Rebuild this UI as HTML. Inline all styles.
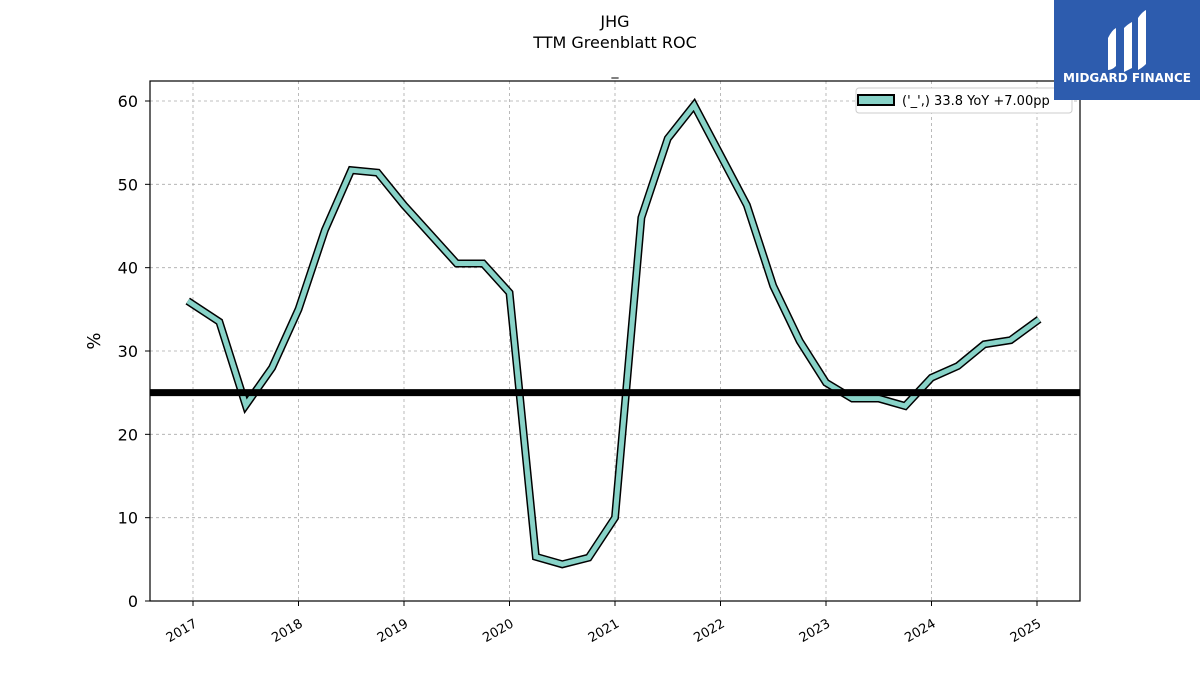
<!DOCTYPE html>
<html><head><meta charset="utf-8"><style>
body{margin:0;background:#fff;}
svg text{font-family:"DejaVu Sans","Liberation Sans",sans-serif;}
</style></head><body>
<svg id="c" width="1200" height="675" xmlns="http://www.w3.org/2000/svg">
<rect width="1200" height="675" fill="#fff"/>
<text x="615" y="27" font-size="16" text-anchor="middle">JHG</text>
<text x="615" y="48" font-size="16" text-anchor="middle">TTM Greenblatt ROC</text>
<text x="615" y="75" font-size="14" text-anchor="middle">_</text>
<g id="grid"></g>
<g id="marks"></g>
<rect x="150" y="81" width="930" height="520" fill="none" stroke="#000" stroke-width="1.2"/>
<g id="axes"></g>
<text x="100" y="341" font-size="18" text-anchor="middle" transform="rotate(-90 100 341)">%</text>
<g>
<rect x="856" y="88" width="216" height="25" rx="3" fill="#fff" stroke="#ccc"/>
<rect x="858" y="95" width="36" height="10" fill="#88d3c8" stroke="#000" stroke-width="2"/>
<text x="902" y="105" font-size="13">('_',) 33.8 YoY +7.00pp</text>
</g>
<g>
<rect x="1054" y="0" width="146" height="100" fill="#2d5cae"/>
<path d="M1108 38 q4-8 8-10 v38 q-4 4-8 4z M1124 28 q4-4 8-6 v46 q-4 2-8 4z M1138 18 q4-6 8-8 v54 q-4 4-8 6z" fill="#fff"/>
<text x="1127" y="82" font-size="12" font-weight="bold" fill="#fff" text-anchor="middle">MIDGARD FINANCE</text>
</g>
</svg>
<script>
const yTicks=[0,10,20,30,40,50,60];
const xYears=[2017,2018,2019,2020,2021,2022,2023,2024,2025];
const dates=[2016.95,2017.25,2017.5,2017.75,2018,2018.25,2018.5,2018.75,2019,2019.25,2019.5,2019.75,2020,2020.25,2020.5,2020.75,2021,2021.25,2021.5,2021.75,2022,2022.25,2022.5,2022.75,2023,2023.25,2023.5,2023.75,2024,2024.25,2024.5,2024.75,2025.02];
const values=[36,33.5,23.5,28,35,44.5,51.7,51.4,47.5,44,40.5,40.5,37,5.3,4.4,5.2,10,46,55.5,59.5,53.5,47.5,37.8,31.2,26.2,24.3,24.3,23.4,26.8,28.2,30.8,31.3,33.8];
const refLine=25;
const NS='http://www.w3.org/2000/svg';
const X=d=>193+(d-2017)*105.5;
const Y=v=>601-v*(500/60);
function mk(t,a,p){const e=document.createElementNS(NS,t);for(const k in a)e.setAttribute(k,a[k]);p.appendChild(e);return e;}
const grid=document.getElementById('grid'),axes=document.getElementById('axes'),marks=document.getElementById('marks');
yTicks.forEach(v=>{
 const l=mk('line',{x1:150,x2:1080,y1:Y(v),y2:Y(v),stroke:'#aaa','stroke-dasharray':'3,3','stroke-width':0.8},grid);
 
 
 mk('line',{x1:145,x2:150,y1:Y(v),y2:Y(v),stroke:'#000'},axes);
 const t=mk('text',{x:138,y:Y(v)+6,'font-size':16,'text-anchor':'end'},axes);t.textContent=v;
 
 
});
xYears.forEach(y=>{
 const l=mk('line',{x1:X(y),x2:X(y),y1:81,y2:601,stroke:'#aaa','stroke-dasharray':'3,3','stroke-width':0.8},grid);
 
 
 mk('line',{x1:X(y),x2:X(y),y1:601,y2:606,stroke:'#000'},axes);
 const t=mk('text',{x:X(y)+5,y:626,'font-size':13,'text-anchor':'end',transform:`rotate(-30 ${X(y)+5} 626)`},axes);t.textContent=y;
 
 
});
const pts=dates.map((d,i)=>X(d)+','+Y(values[i])).join(' ');
const o=mk('polyline',{points:pts,fill:'none',stroke:'#000','stroke-width':8,'stroke-linejoin':'miter'},marks);


const s=mk('polyline',{points:pts,fill:'none',stroke:'#88d3c8','stroke-width':5,'stroke-linejoin':'miter'},marks);


const r=mk('line',{x1:150,x2:1080,y1:Y(refLine),y2:Y(refLine),stroke:'#000','stroke-width':7},marks);


</script>
</body></html>
